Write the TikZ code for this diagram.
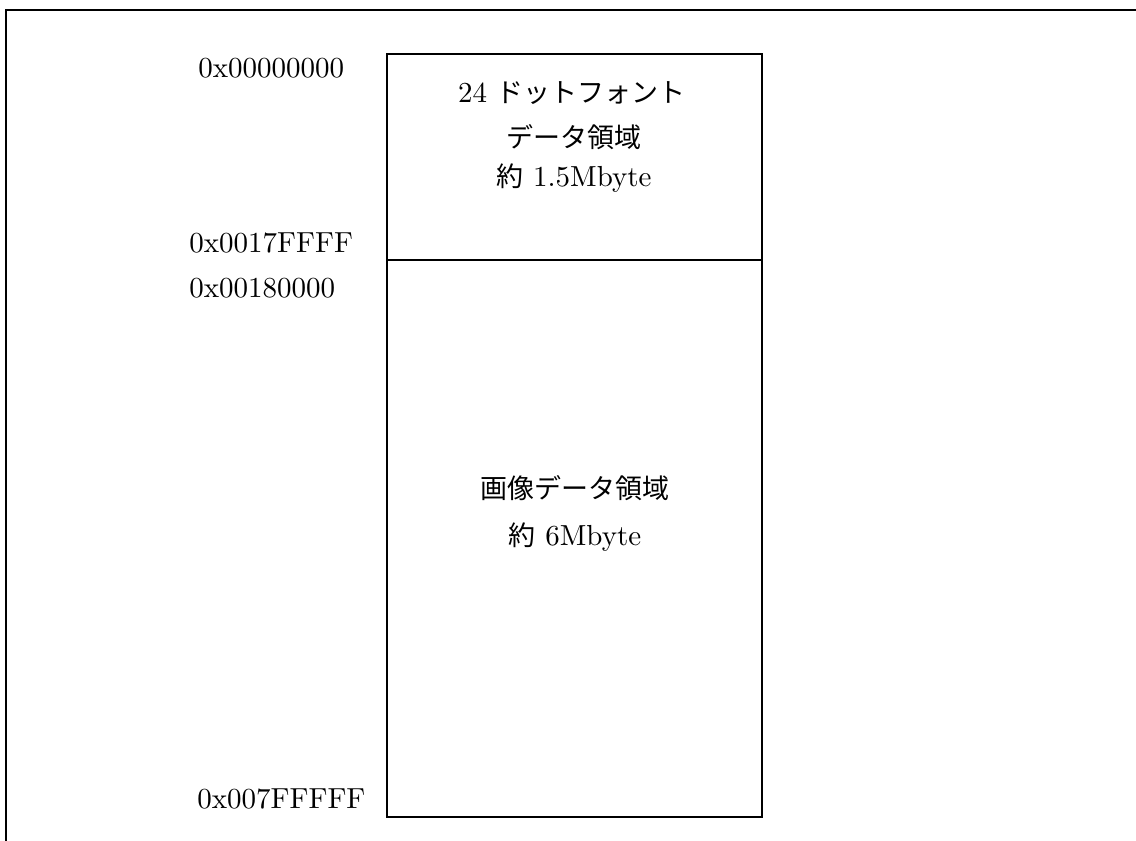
\documentclass[tikz,border=0pt]{standalone}
\usepackage{fontspec}
\setmainfont{lmroman10-regular}[Extension=.otf]
\newfontfamily\jpfont{Noto Sans CJK JP}
\usepackage{tikz}
\usetikzlibrary{positioning}

\tikzset{
  membox/.style={draw,line width=0.75pt,minimum width=187.5pt,inner sep=0pt},
  addr/.style={font=\fontsize{14.5}{18}\selectfont,inner sep=0pt,anchor=base west},
  area/.style={font=\fontsize{14.5}{18}\selectfont,inner sep=0pt,align=center}
}

\begin{document}
\begin{tikzpicture}[x=0.5pt,y=-0.5pt]
  \useasboundingbox (0,0) rectangle (1136,841);
  % outer frame
  \draw[line width=1.1pt] (6,841) -- (6,10) -- (1136,10);
  % memory map
  \node[membox,minimum height=103pt] (font) at (574.5,157) {};
  \node[membox,minimum height=278.5pt] (image) at (574.5,538.5) {};
  \node[area] (fonttxt1) at (572,93) {24 {\jpfont\fontsize{13.5}{16}\selectfont ドットフォント}};
  \node[area] (fonttxt2) at (574,137) {\jpfont\fontsize{13.5}{16}\selectfont データ領域};
  \node[area] (fonttxt3) at (574,178) {{\jpfont\fontsize{13.5}{16}\selectfont 約} 1.5Mbyte};
  \node[area] (imgtxt1) at (575,488) {\jpfont\fontsize{13.5}{16}\selectfont 画像データ領域};
  \node[area] (imgtxt2) at (575,537) {{\jpfont\fontsize{13.5}{16}\selectfont 約} 6Mbyte};
  % addresses
  \node[addr] (a0) at (198,77) {0x00000000};
  \node[addr] (a1) at (189,252) {0x0017FFFF};
  \node[addr] (a2) at (189,297) {0x00180000};
  \node[addr] (a3) at (197,808) {0x007FFFFF};
\end{tikzpicture}
\end{document}
